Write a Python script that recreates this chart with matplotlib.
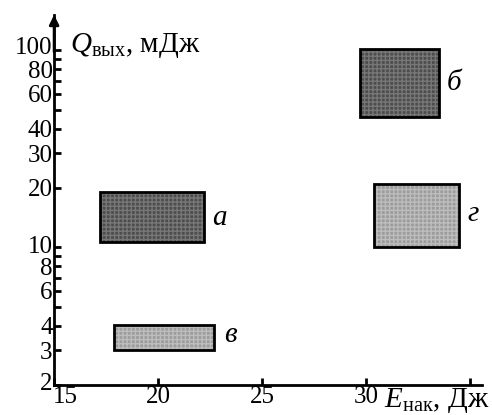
import matplotlib.pyplot as plt
import matplotlib.transforms as mtransforms

plt.rcParams['font.family'] = ['Liberation Serif', 'DejaVu Serif']
plt.rcParams['mathtext.fontset'] = 'custom'
plt.rcParams['mathtext.rm'] = 'Liberation Serif'
plt.rcParams['mathtext.it'] = 'Liberation Serif:italic'

# ---- data ----
names = ['а', 'б', 'в', 'г']
x_left = [17.2, 29.7, 17.9, 30.4]
x_right = [22.2, 33.5, 22.7, 34.5]
q_low = [10.6, 46, 3.0, 10.0]
q_high = [19.0, 102, 4.05, 21.0]
shade = ['dark', 'dark', 'light', 'light']

x_ticks = [15, 20, 25, 30, 35]
x_labels = ['15', '20', '25', '30', '']
y_ticks = [2, 3, 4, 5, 6, 7, 8, 9, 10, 20, 30, 40, 50, 60, 70, 80, 90, 100]
y_labels = ['2', '3', '4', '', '6', '', '8', '', '10', '20', '30', '40', '',
            '60', '', '80', '', '100']

fills = {'dark': ('#4d4d4d', '#777777'), 'light': ('#9c9c9c', '#bdbdbd')}

fig = plt.figure(figsize=(4.92, 4.15), dpi=100)
ax = fig.add_axes([0.11, 0.0723, 0.87, 0.8917])

for i in range(len(names)):
    fc, hc = fills[shade[i]]
    w = x_right[i] - x_left[i]
    h = q_high[i] - q_low[i]
    ax.bar(x_left[i], h, width=w, bottom=q_low[i], align='edge',
           color=fc, edgecolor=hc, hatch='++++', linewidth=0)
    ax.bar(x_left[i], h, width=w, bottom=q_low[i], align='edge',
           fill=False, edgecolor='black', linewidth=2)

# letters next to rectangles
lbl_pos = {'а': (22.6, 14.0), 'б': (33.9, 68), 'в': (23.2, 3.6), 'г': (34.9, 14.8)}
for n in names:
    ax.text(lbl_pos[n][0], lbl_pos[n][1], n, fontsize=21, style='italic',
            va='center', ha='left')

ax.set_yscale('log')
ax.set_xlim(15, 35.6)
ax.set_ylim(2, 151)
ax.set_xticks(x_ticks)
ax.set_xticklabels(x_labels)
ax.set_yticks(y_ticks)
ax.set_yticklabels(y_labels)
ax.yaxis.set_minor_locator(plt.NullLocator())
ax.tick_params(direction='in', length=5, width=2, labelsize=18, pad=1)


def nudge(label, dx, dy):
    label.set_transform(label.get_transform() +
                        mtransforms.ScaledTranslation(dx / 100, dy / 100, fig.dpi_scale_trans))


# "15" sits right of the corner; "2", "10", "100" a bit up as in the original
ylabs = ax.get_yticklabels()
nudge(ax.get_xticklabels()[0], 11, 0)
nudge(ylabs[0], 0, 3)
nudge(ylabs[8], 0, 3)
nudge(ylabs[-1], 0, 5)

for s in ['top', 'right']:
    ax.spines[s].set_visible(False)
for s in ['left', 'bottom']:
    ax.spines[s].set_linewidth(2)

# arrow on y axis
ax.annotate('', xy=(0, 1.0), xycoords='axes fraction', xytext=(0, 0.9),
            arrowprops=dict(arrowstyle='-|>', color='black', lw=2,
                            mutation_scale=14, shrinkA=0, shrinkB=0))

fig.text(0.142, 0.89, r'$Q_{\mathrm{вых}}$, мДж', fontsize=21, va='center', ha='left')
fig.text(0.78, 0.035, r'$E_{\mathrm{нак}}$, Дж', fontsize=21, va='center', ha='left')

plt.savefig('out.png', dpi=100)
